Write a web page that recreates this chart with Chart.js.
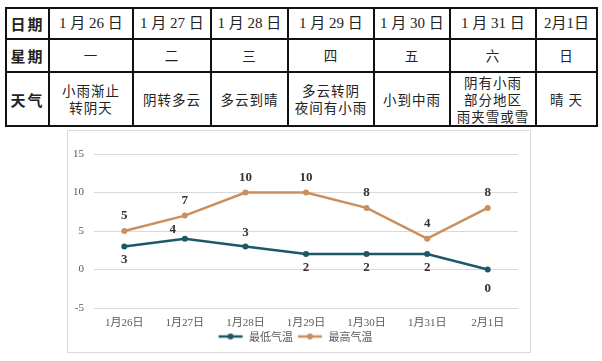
<!DOCTYPE html>
<html>
<head>
<meta charset="utf-8">
<script src="https://cdn.jsdelivr.net/npm/chart.js@4/dist/chart.umd.min.js"></script>
<style>
  html, body { margin:0; padding:0; background:#fff; width:602px; height:361px; overflow:hidden; }
  table { position:absolute; left:5px; top:7px; width:591px; border-collapse:collapse; table-layout:fixed; }
  td { border:2px solid #111; text-align:center; vertical-align:middle; padding:0; overflow:hidden; white-space:nowrap;
       font-family:"Liberation Serif","Noto Sans CJK SC",serif; font-size:15px; color:#222; line-height:17px; }
  td.h { font-family:"Noto Sans CJK SC",sans-serif; font-weight:700; font-size:15px; letter-spacing:2px; }
  td.w { font-family:"Noto Sans CJK SC",sans-serif; font-size:13.5px; letter-spacing:1px; line-height:17px; }
  #box { position:absolute; left:67px; top:130px; width:462px; height:221px; border:1px solid #d9d9d9; }
  #wrap { position:absolute; left:0; top:0; width:462px; height:221px; }
</style>
</head>
<body>
<table id="tbl"></table>
<div id="box"><div id="wrap"><canvas id="c" width="462" height="221"></canvas></div></div>
<script>
// ---- data ----
const dateLabels = ["1 月 26 日","1 月 27 日","1 月 28 日","1 月 29 日","1 月 30 日","1 月 31 日","2月1日"];
const weekdays = ["一","二","三","四","五","六","日"];
const weather = ["小雨渐止<br>转阴天","阴转多云","多云到晴","多云转阴<br>夜间有小雨","小到中雨","阴有小雨<br>部分地区<br>雨夹雪或雪","晴 天"];
const categories = ["1月26日","1月27日","1月28日","1月29日","1月30日","1月31日","2月1日"];
const lowTemps = [3,4,3,2,2,2,0];
const highTemps = [5,7,10,10,8,4,8];
const seriesNames = ["最低气温","最高气温"];
const yTicks = [-5,0,5,10,15];

// ---- table ----
const colW = [43,84,78,77,86,76,86,61];
const rowH = [31,33,54];
const tbl = document.getElementById('tbl');
let html = '<colgroup>' + colW.map(w=>`<col style="width:${w}px">`).join('') + '</colgroup>';
html += `<tr style="height:${rowH[0]}px"><td class="h">日期</td>` + dateLabels.map(d=>`<td>${d}</td>`).join('') + '</tr>';
html += `<tr style="height:${rowH[1]}px"><td class="h">星期</td>` + weekdays.map(d=>`<td class="w">${d}</td>`).join('') + '</tr>';
html += `<tr style="height:${rowH[2]}px"><td class="h">天气</td>` + weather.map(d=>`<td class="w">${d}</td>`).join('') + '</tr>';
tbl.innerHTML = html;

// ---- chart ----
const lowColor = '#1d5868';
const highColor = '#c9905e';
const labelPlacement = [
  [[0,13],[-12,-9],[0,-14],[0,14],[0,14],[0,14],[0,19]],
  [[0,-15],[0,-15],[0,-15],[0,-15],[0,-15],[0,-15],[0,-15]]
];
function legendIcon(color){
  const cv = document.createElement('canvas');
  cv.width = 30; cv.height = 8;
  const g = cv.getContext('2d');
  g.strokeStyle = color; g.lineWidth = 2.5;
  g.beginPath(); g.moveTo(5,4); g.lineTo(29,4); g.stroke();
  g.fillStyle = color; g.beginPath(); g.arc(17,4,3,0,Math.PI*2); g.fill();
  return cv;
}
const valueLabels = {
  id:'valueLabels',
  afterDatasetsDraw(chart){
    const ctx = chart.ctx;
    ctx.save();
    ctx.font = 'bold 13px "Liberation Serif", serif';
    ctx.fillStyle = '#333';
    ctx.textAlign = 'center';
    ctx.textBaseline = 'middle';
    chart.data.datasets.forEach((ds,di)=>{
      chart.getDatasetMeta(di).data.forEach((pt,i)=>{
        const off = labelPlacement[di][i];
        ctx.fillText(String(ds.data[i]), pt.x+off[0], pt.y+off[1]);
      });
    });
    ctx.restore();
  }
};
new Chart(document.getElementById('c'), {
  type:'line',
  data:{
    labels:categories,
    datasets:[
      {label:seriesNames[0], data:lowTemps, borderColor:lowColor, backgroundColor:lowColor, borderWidth:2.5,
       pointRadius:3, pointBackgroundColor:lowColor, pointBorderWidth:0, tension:0},
      {label:seriesNames[1], data:highTemps, borderColor:highColor, backgroundColor:highColor, borderWidth:2.5,
       pointRadius:3, pointBackgroundColor:highColor, pointBorderWidth:0, tension:0}
    ]
  },
  options:{
    responsive:false, animation:false, devicePixelRatio:1,
    layout:{padding:{left:0,right:12,top:23,bottom:0}},
    plugins:{
      tooltip:{enabled:false},
      legend:{
        position:'bottom',
        labels:{
          font:{family:'"Noto Sans CJK SC", sans-serif', size:11},
          color:'#595959', usePointStyle:true, pointStyleWidth:30, padding:0, boxHeight:8,
          generateLabels(chart){
            return chart.data.datasets.map((ds,i)=>({
              text:ds.label, pointStyle:legendIcon(ds.borderColor), fillStyle:ds.borderColor,
              strokeStyle:ds.borderColor, lineWidth:0, datasetIndex:i, hidden:false, fontColor:'#595959'
            }));
          }
        }
      }
    },
    scales:{
      x:{
        offset:true,
        grid:{display:false, drawTicks:false},
        border:{display:false},
        ticks:{font:{family:'"Liberation Serif","Noto Sans CJK SC", serif', size:11}, color:'#595959', padding:9, maxRotation:0},
        afterFit(s){ s.height = 23; }
      },
      y:{
        min:-5, max:15,
        afterBuildTicks(s){ s.ticks = yTicks.map(v=>({value:v})); },
        grid:{color:'#d9d9d9', drawTicks:false, lineWidth:1},
        border:{display:false},
        ticks:{font:{family:'"Liberation Serif", serif', size:11}, color:'#595959', padding:10},
        afterFit(s){ s.width = 26; }
      }
    }
  },
  plugins:[valueLabels]
});
</script>
</body>
</html>
